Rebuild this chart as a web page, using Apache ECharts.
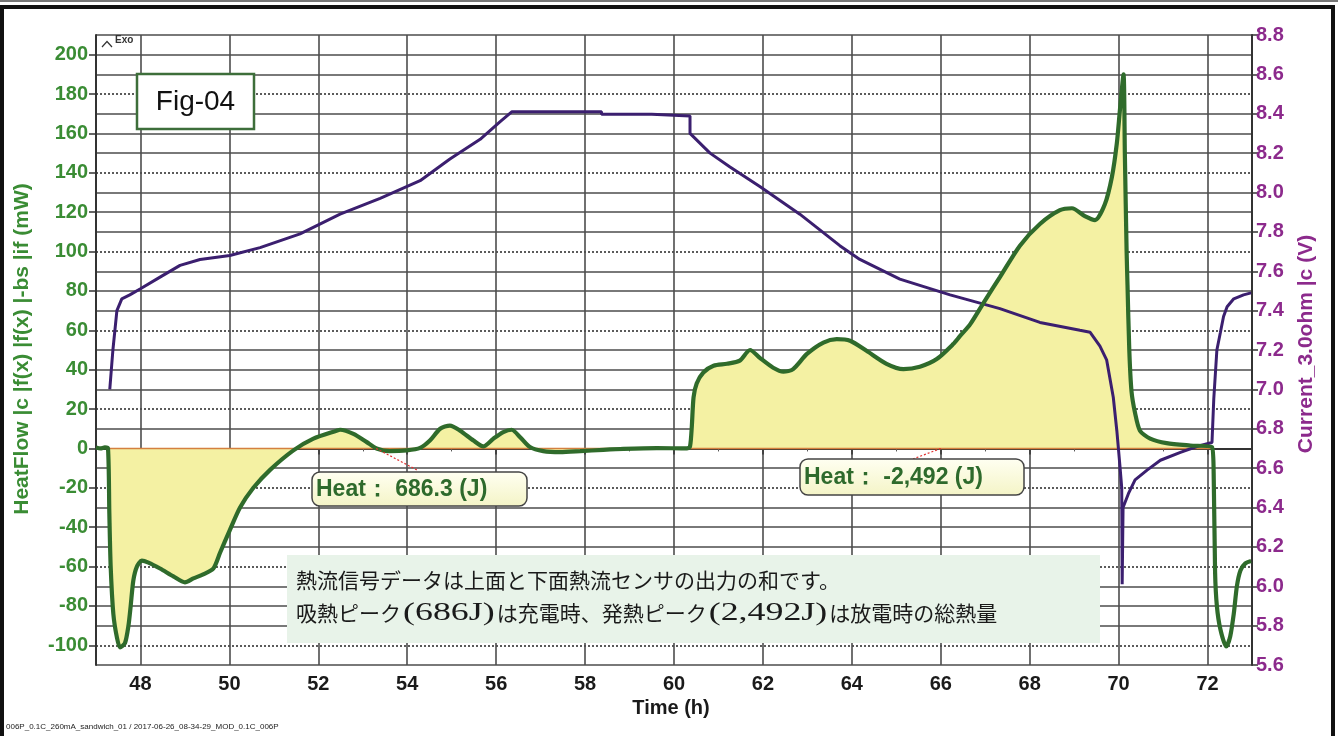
<!DOCTYPE html>
<html>
<head>
<meta charset="utf-8">
<script src="https://cdn.jsdelivr.net/npm/echarts@6/dist/echarts.min.js"></script>
<style>
  html, body { margin: 0; padding: 0; background: #fff; }
  #chart { width: 1338px; height: 736px; }
</style>
</head>
<body>
<div id="chart"></div>
<script>
// Heat flow signal (mW) against time (h)
const hfTime = [47.00, 47.10, 47.20, 47.27, 47.30, 47.33, 47.39, 47.47, 47.54, 47.65, 47.73, 47.78, 47.84, 47.92,
  48.03, 48.18, 48.44, 48.74, 49.00, 49.19, 49.41, 49.64, 49.79, 50.01, 50.24, 50.54, 50.91, 51.44, 51.89,
  52.41, 52.49, 52.79, 53.09, 53.31, 53.61, 53.99, 54.29, 54.51, 54.74, 54.96, 55.19, 55.49, 55.71, 55.94,
  56.16, 56.35, 56.54, 56.76, 57.06, 57.44, 57.89, 58.41, 58.86, 59.61, 60.29, 60.36, 60.40, 60.44, 60.51,
  60.66, 60.89, 61.19, 61.48, 61.71, 61.93, 62.23, 62.46, 62.68, 62.99, 63.36, 63.66, 63.96, 64.33, 64.78,
  65.16, 65.53, 65.91, 66.28, 66.43, 66.66, 66.99, 67.33, 67.78, 68.23, 68.68, 68.95, 69.24, 69.47, 69.69,
  69.85, 69.96, 70.03, 70.11, 70.14, 70.18, 70.20, 70.24, 70.29, 70.37, 70.48, 70.71, 71.08, 71.61, 72.10,
  72.14, 72.17, 72.21, 72.29, 72.42, 72.51, 72.59, 72.66, 72.74, 72.85, 72.98];
const hfValue = [0.5, 0, 0.5, 0, -33, -60, -84, -96, -101, -99, -90, -80, -67, -60,
  -57, -58, -61, -65, -68, -66, -64, -61, -53, -41.5, -30, -20, -11, -1, 5,
  9, 9.5, 7.4, 3.2, 0, -1.4, -1, 0.3, 4, 10, 11.6, 9, 4, 1, 5,
  8.3, 9.5, 5.7, 0.7, -1.4, -1.9, -1.4, -0.7, -0.2, 0.2, 0, 1, 11, 26, 33,
  38.6, 42, 43, 44.6, 50, 46, 41, 39, 40.3, 48, 53.8, 55.5, 54.7, 49.6, 43,
  40.3, 41.5, 45.4, 53, 57, 63, 75, 87, 103, 114, 121, 122, 118, 116, 124,
  138, 155, 172, 190, 150, 100, 83, 50, 29, 18, 9, 5, 2.7, 1.5, 0.7,
  -16, -63, -80, -92, -100.6, -95.5, -84, -70, -62, -58.4, -57.2];

// Cell current measured across the 3.0 ohm shunt (V)
const curTime = [47.31, 47.38, 47.47, 47.58, 47.76, 47.99, 48.44, 48.89, 49.34, 50.01, 50.69, 51.59, 52.49,
  53.39, 54.29, 54.96, 55.64, 56.09, 56.35, 58.37, 58.37, 59.50, 59.50, 60.36, 60.36, 60.81, 61.26, 61.93,
  62.83, 63.73, 64.18, 65.08, 66.21, 67.33, 68.23, 69.13, 69.36, 69.58, 69.73, 69.88, 69.96, 70.03, 70.07,
  70.08, 70.10, 70.22, 70.37, 70.64, 70.94, 71.39, 71.76, 72.10, 72.14, 72.21, 72.29, 72.36, 72.44, 72.59,
  72.81, 72.98];
const curValue = [7.00, 7.20, 7.40, 7.46, 7.48, 7.51, 7.57, 7.63, 7.66, 7.68, 7.72, 7.79, 7.89,
  7.97, 8.06, 8.17, 8.27, 8.36, 8.41, 8.41, 8.397, 8.397, 8.389, 8.389, 8.30, 8.20, 8.13, 8.03,
  7.89, 7.73, 7.66, 7.56, 7.48, 7.41, 7.34, 7.30, 7.29, 7.22, 7.15, 6.96, 6.79, 6.61, 6.50,
  6.01, 6.40, 6.47, 6.54, 6.59, 6.64, 6.68, 6.71, 6.73, 6.95, 7.20, 7.29, 7.37, 7.42, 7.46,
  7.48, 7.49];

// Integration windows (h) of the two heat peaks
const heatWindows = [[47.27, 60.29], [60.29, 72.10]];
const heatLabels = ['Heat\uff1a 686.3 (J)', 'Heat\uff1a -2,492 (J)'];
const heatAnchors = [53.3, 66.0];

// Tick labels
const timeTicks = [48, 50, 52, 54, 56, 58, 60, 62, 64, 66, 68, 70, 72];
const timeMinor = [49, 51, 53, 55, 57, 59, 61, 63, 65, 67, 69, 71];
const hfTicks = [-100, -80, -60, -40, -20, 0, 20, 40, 60, 80, 100, 120, 140, 160, 180, 200];
const hfDotted = [-100, -60, -20, 20, 60, 100, 140, 180];
const hfSolid = [-110, -90, -80, -70, -50, -40, -30, -10, 10, 30, 40, 50, 70, 80, 90, 110, 120, 130, 150, 160, 170, 190, 200, 210];

// Note text, split into Japanese and Latin runs
const noteLine1 = '熱流信号データは上面と下面熱流センサの出力の和です。';
const noteLine2 = [
  ['吸熱ピーク', false], ['(686J)', true], ['は充電時、', false], ['発熱ピーク', false],
  ['(2,492J)', true], ['は放電時の総熱量', false]
];

const GREEN_TXT = '#3a8c34';
const PURPLE_TXT = '#8c2a8c';
const GRID_COL = '#4d4d4d';
const FONT = '"Liberation Sans", Arial, sans-serif';
const CJK_FONT = '21px "Noto Sans CJK JP", sans-serif';
const LAT_FONT = '26px "Liberation Serif", serif';
const LAT_SCALE = 1.38;

const hfData = hfTime.map((t, i) => [t, hfValue[i]]);
const curData = curTime.map((t, i) => [t, curValue[i]]);
const windowData = heatWindows.map(w => hfData.filter(p => p[0] >= w[0] && p[0] <= w[1]));

const chart = echarts.init(document.getElementById('chart'), null, { renderer: 'canvas' });

const grid = { left: 96, right: 86, top: 35, bottom: 71 };

const option = {
  animation: false,
  backgroundColor: '#ffffff',
  grid: grid,
  xAxis: [
    {
      type: 'value', min: 47, max: 73,
      axisLine: { show: true, lineStyle: { color: '#333', width: 2 } },
      axisTick: { show: true, length: 6, customValues: timeTicks, lineStyle: { color: '#333', width: 1.5 } },
      axisLabel: { customValues: timeTicks, color: '#1a1a1a', fontSize: 20, fontWeight: 'bold', fontFamily: FONT, margin: 9 },
      splitLine: { show: true, lineStyle: { color: GRID_COL, width: 1.6 } }
    },
    {
      type: 'value', min: 47, max: 73, position: 'bottom',
      axisLine: { show: false },
      axisTick: { show: true, length: 3, customValues: timeMinor, lineStyle: { color: '#555', width: 1 } },
      axisLabel: { show: false },
      splitLine: { show: false }
    }
  ],
  yAxis: [
    {
      type: 'value', position: 'left', min: -110, max: 210,
      axisLine: { show: true, lineStyle: { color: '#333', width: 2 } },
      axisTick: { show: true, length: 7, customValues: hfTicks, lineStyle: { color: '#333', width: 1.5 } },
      axisLabel: { customValues: hfTicks, color: GREEN_TXT, fontSize: 20, fontWeight: 'bold', fontFamily: FONT, margin: 8 },
      splitLine: { show: false }
    },
    {
      type: 'value', position: 'left', min: -110, max: 210,
      axisLine: { show: false },
      axisTick: { show: false, customValues: hfSolid },
      axisLabel: { show: false },
      splitLine: { show: true, lineStyle: { color: GRID_COL, width: 1.6 } }
    },
    {
      type: 'value', position: 'left', min: -110, max: 210,
      axisLine: { show: false },
      axisTick: { show: false, customValues: hfDotted },
      axisLabel: { show: false },
      splitLine: { show: true, lineStyle: { color: '#333', width: 1.6, type: [2, 2] } }
    },
    {
      type: 'value', position: 'right', min: 5.6, max: 8.8, interval: 0.2,
      axisLine: { show: true, lineStyle: { color: '#333', width: 2 } },
      axisTick: { show: true, length: 6, lineStyle: { color: '#333', width: 1.5 } },
      axisLabel: { color: PURPLE_TXT, fontSize: 20, fontWeight: 'bold', fontFamily: FONT, margin: 4,
        formatter: v => v.toFixed(1) },
      splitLine: { show: false }
    }
  ],
  series: [
    // Yellow integration areas under the heat flow peaks
    ...windowData.map(d => ({
      type: 'line', xAxisIndex: 0, yAxisIndex: 0, data: d,
      showSymbol: false, silent: true, z: 2,
      lineStyle: { width: 0, opacity: 0 },
      areaStyle: { color: '#f4f1a3', opacity: 1, origin: 'auto' }
    })),
    // Integration baseline
    {
      type: 'line', xAxisIndex: 0, yAxisIndex: 0, silent: true, z: 3,
      data: [[heatWindows[0][0], 0], [heatWindows[1][1], 0]],
      showSymbol: false,
      lineStyle: { color: '#d4803f', width: 1.6 }
    },
    // Heat flow curve
    {
      type: 'line', xAxisIndex: 0, yAxisIndex: 0, data: hfData, z: 5,
      showSymbol: false, smooth: 0.25,
      lineStyle: { color: '#2f6b2b', width: 4.2 }
    },
    // Current curve
    {
      type: 'line', xAxisIndex: 0, yAxisIndex: 3, data: curData, z: 4,
      showSymbol: false,
      lineStyle: { color: '#3b1f6f', width: 3 }
    }
  ]
};

chart.setOption(option);

// Annotation layer
const measureCtx = document.createElement('canvas').getContext('2d');
function textWidth(str, font) {
  measureCtx.font = font;
  return measureCtx.measureText(str).width;
}

const anchorPx = heatAnchors.map(t => chart.convertToPixel({ xAxisIndex: 0, yAxisIndex: 0 }, [t, 0]));
const boxes = [
  { x: 312, y: 472, w: 215, h: 34 },
  { x: 800, y: 459, w: 224, h: 36 }
];
const boxFill = new echarts.graphic.LinearGradient(0, 0, 0, 1, [
  { offset: 0, color: '#fffff2' }, { offset: 1, color: '#f4f4c6' }
]);

const graphics = [
  // frame
  { type: 'line', shape: { x1: 0, y1: 1, x2: 1338, y2: 1 }, style: { stroke: '#777', lineWidth: 2 }, silent: true },
  { type: 'rect', shape: { x: 2, y: 7, width: 1331, height: 740 }, style: { fill: null, stroke: '#111', lineWidth: 4 }, silent: true },
  // exotherm marker
  { type: 'polyline', shape: { points: [[102, 47], [107, 41.5], [112, 47]] }, style: { stroke: '#333', lineWidth: 1.2, fill: null } },
  { type: 'text', x: 115, y: 35, style: { text: 'Exo', font: 'bold 10px ' + FONT, fill: '#333' } },
  // figure tag
  { type: 'rect', shape: { x: 137, y: 74, width: 117, height: 55 }, style: { fill: '#fff', stroke: '#3d6e3a', lineWidth: 2.5 }, z: 10 },
  { type: 'text', x: 195.5, y: 102, z: 11, style: { text: 'Fig-04', font: '28px ' + FONT, fill: '#111', align: 'center', verticalAlign: 'middle' } },
  // note box
  { type: 'rect', shape: { x: 287, y: 555, width: 813, height: 88 }, style: { fill: '#e8f3e9' }, z: 10 },
  { type: 'text', x: 296, y: 580, z: 11, style: { text: noteLine1, font: CJK_FONT, fill: '#1a1a1a', verticalAlign: 'middle' } },
  // axis titles
  { type: 'text', x: 22, y: 349, rotation: Math.PI / 2, z: 11, style: { text: 'HeatFlow |c |f(x) |f(x) |-bs |if (mW)', font: 'bold 21px ' + FONT, fill: GREEN_TXT, align: 'center', verticalAlign: 'middle' } },
  { type: 'text', x: 1306, y: 344, rotation: Math.PI / 2, z: 11, style: { text: 'Current_3.0ohm |c (V)', font: 'bold 21px ' + FONT, fill: PURPLE_TXT, align: 'center', verticalAlign: 'middle' } },
  { type: 'text', x: 671, y: 708, z: 11, style: { text: 'Time (h)', font: 'bold 20px ' + FONT, fill: '#1a1a1a', align: 'center', verticalAlign: 'middle' } },
  // file footer
  { type: 'text', x: 6, y: 727, z: 11, style: { text: '006P_0.1C_260mA_sandwich_01 / 2017-06-26_08-34-29_MOD_0.1C_006P', font: '8px ' + FONT, fill: '#222', verticalAlign: 'middle' } }
];

// second note line: Latin runs are set wider than the Japanese runs
let cursor = 296;
noteLine2.forEach(([str, latin]) => {
  const font = latin ? LAT_FONT : CJK_FONT;
  const sx = latin ? LAT_SCALE : 1;
  graphics.push({ type: 'text', x: cursor + (latin ? 2 : 0), y: 613, scaleX: sx, z: 11,
    style: { text: str, font: font, fill: '#1a1a1a', verticalAlign: 'middle' } });
  cursor += textWidth(str, font) * sx + (latin ? 4 : 0);
});

boxes.forEach((b, i) => {
  const a = anchorPx[i];
  const leaderEnd = i === 0 ? [b.x + 105, b.y - 2] : [b.x + 113, b.y];
  graphics.push({ type: 'line', z: 9, shape: { x1: a[0], y1: a[1], x2: leaderEnd[0], y2: leaderEnd[1] },
    style: { stroke: '#e03030', lineWidth: 1.2, lineDash: [2, 2] } });
  graphics.push({ type: 'rect', z: 10, shape: { x: b.x, y: b.y, width: b.w, height: b.h, r: 8 },
    style: { fill: boxFill, stroke: '#444', lineWidth: 1.5 } });
  graphics.push({ type: 'text', z: 11, x: b.x + 4, y: b.y + b.h / 2 + 1,
    style: { text: heatLabels[i], font: 'bold 23px ' + FONT, fill: '#2e6a2c', verticalAlign: 'middle' } });
});

chart.setOption({ graphic: graphics });
</script>
</body>
</html>
